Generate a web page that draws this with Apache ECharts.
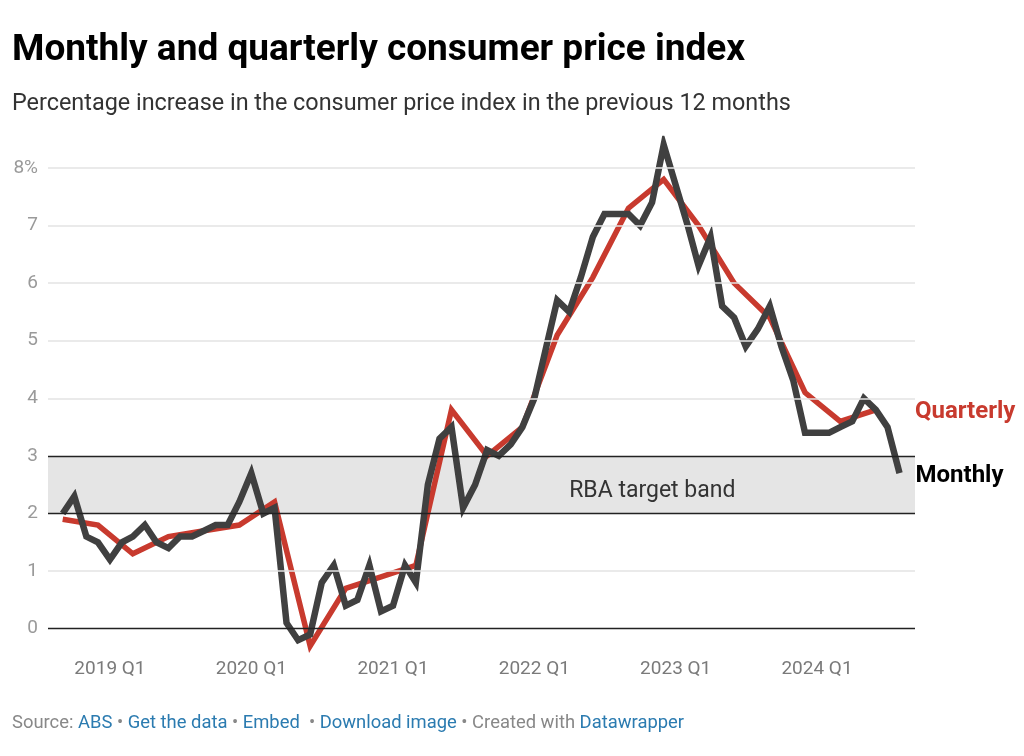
<!DOCTYPE html>
<html>
<head>
<meta charset="utf-8">
<script src="https://cdn.jsdelivr.net/npm/echarts@6/dist/echarts.min.js"></script>
<style>
  html, body { margin: 0; padding: 0; background: #fff; }
  #chart { width: 1024px; height: 756px; }
</style>
</head>
<body>
<div id="chart"></div>
<script>
// ---- Data ----
const MONTHLY_START = [2018, 9];   // first month of the monthly series (Sep 2018)
const MONTHLY_VALUES = [
  2.0, 2.3, 1.6, 1.5, 1.2, 1.5, 1.6, 1.8, 1.5, 1.4, 1.6, 1.6,
  1.7, 1.8, 1.8, 2.2, 2.7, 2.0, 2.1, 0.1, -0.2, -0.1, 0.8, 1.1,
  0.4, 0.5, 1.1, 0.3, 0.4, 1.1, 0.8, 2.5, 3.3, 3.5, 2.1, 2.5,
  3.1, 3.0, 3.2, 3.5, 4.0, 4.9, 5.7, 5.5, 6.1, 6.8, 7.2, 7.2,
  7.2, 7.0, 7.4, 8.4, 7.7, 7.0, 6.3, 6.8, 5.6, 5.4, 4.9, 5.2,
  5.6, 4.9, 4.3, 3.4, 3.4, 3.4, 3.5, 3.6, 4.0, 3.8, 3.5, 2.7
];
const QUARTERLY_START = [2018, 9]; // Sep quarter 2018, quarter-end months
const QUARTERLY_VALUES = [
  1.9, 1.8, 1.3, 1.6, 1.7, 1.8, 2.2, -0.3, 0.7, 0.9, 1.1, 3.8,
  3.0, 3.5, 5.1, 6.1, 7.3, 7.8, 7.0, 6.0, 5.4, 4.1, 3.6, 3.8
];
const Y_TICKS = [0, 1, 2, 3, 4, 5, 6, 7, 8];
const LIGHT_GRID = [1, 4, 5, 6, 7, 8];
const DARK_LINES = [0, 2, 3];
const TARGET_BAND = [2, 3];
const X_RANGE = ['2018-07-25', '2024-09-10'];

function monthDate(start, offsetMonths) {
  const y = start[0] + Math.floor((start[1] - 1 + offsetMonths) / 12);
  const m = (start[1] - 1 + offsetMonths) % 12 + 1;
  return y + '-' + String(m).padStart(2, '0') + '-01';
}
const monthlyData = MONTHLY_VALUES.map((v, i) => [monthDate(MONTHLY_START, i), v]);
const quarterlyData = QUARTERLY_VALUES.map((v, i) => [monthDate(QUARTERLY_START, i * 3), v]);

const FONT = 'Roboto, "Noto Sans", sans-serif';
const RED = '#c83a2e';
const DARK = '#404040';
const BLUE = '#2b7bb0';

const chart = echarts.init(document.getElementById('chart'), null, { renderer: 'canvas' });

chart.setOption({
  animation: false,
  backgroundColor: '#fff',
  textStyle: { fontFamily: FONT },
  title: [
    {
      text: 'Monthly and quarterly consumer price index',
      left: 12, top: 32, padding: 0,
      textStyle: { fontFamily: FONT, fontSize: 37, fontWeight: 'bold', color: '#000' }
    },
    {
      text: 'Percentage increase in the consumer price index in the previous 12 months',
      left: 12, top: 93, padding: 0,
      textStyle: { fontFamily: FONT, fontSize: 23.4, fontWeight: 'normal', color: '#333' }
    },
    {
      text: '{g|Source: }{b|ABS}{g| • }{b|Get the data}{g| • }{b|Embed}{g|  • }{b|Download image}{g| • Created with }{b|Datawrapper}',
      left: 12, top: 714, padding: 0,
      textStyle: {
        fontFamily: FONT, fontSize: 18.4, fontWeight: 'normal',
        rich: {
          g: { fontFamily: FONT, fontSize: 18.4, fontWeight: 'normal', color: '#888' },
          b: { fontFamily: FONT, fontSize: 18.4, fontWeight: 'normal', color: BLUE }
        }
      }
    }
  ],
  grid: { left: 48, right: 109, top: 139.1, bottom: 98.5, containLabel: false },
  xAxis: {
    type: 'time',
    min: X_RANGE[0],
    max: X_RANGE[1],
    splitNumber: 6,
    axisLine: { show: false },
    axisTick: { show: false },
    splitLine: { show: false },
    axisLabel: {
      margin: 2,
      fontFamily: FONT,
      fontSize: 19,
      color: '#7a7a7a',
      hideOverlap: false,
      showMinLabel: false,
      showMaxLabel: false,
      formatter: function (val) {
        const d = new Date(val);
        if (d.getMonth() === 0 && d.getDate() === 1) return d.getFullYear() + ' Q1';
        return '';
      }
    }
  },
  yAxis: {
    type: 'value',
    min: -0.5,
    max: 8.5,
    splitNumber: 9,
    axisLine: { show: false },
    axisTick: { show: false },
    splitLine: { show: false },
    axisLabel: {
      margin: 10,
      fontFamily: FONT,
      fontSize: 19,
      color: '#9a9a9a',
      formatter: function (v) {
        if (Y_TICKS.indexOf(v) < 0) return '';
        return v === Y_TICKS[Y_TICKS.length - 1] ? v + '%' : String(v);
      }
    }
  },
  series: [
    {
      name: 'Reference',
      type: 'line',
      data: [],
      z: 1,
      silent: true,
      markArea: {
        silent: true,
        itemStyle: { color: '#e5e5e5' },
        label: {
          show: true,
          position: ['69.7%', '62%'],
          align: 'center',
          verticalAlign: 'middle',
          fontFamily: FONT,
          fontSize: 23,
          color: '#333',
          formatter: 'RBA target band'
        },
        data: [[{ yAxis: TARGET_BAND[0] }, { yAxis: TARGET_BAND[1] }]]
      },
      markLine: {
        silent: true,
        symbol: 'none',
        label: { show: false },
        data: LIGHT_GRID.map(v => ({ yAxis: v, lineStyle: { color: '#e3e3e3', width: 1.5, type: 'solid' } }))
          .concat(DARK_LINES.map(v => ({ yAxis: v, lineStyle: { color: '#222', width: 1.3, type: 'solid' } })))
      }
    },
    {
      name: 'Quarterly',
      type: 'line',
      data: quarterlyData,
      z: 3,
      symbol: 'none',
      lineStyle: { color: RED, width: 5.5, join: 'miter' },
      endLabel: {
        show: true,
        distance: 39,
        formatter: 'Quarterly',
        fontFamily: FONT,
        fontSize: 24,
        fontWeight: 'bold',
        color: RED,
        offset: [0, 2]
      }
    },
    {
      name: 'Monthly',
      type: 'line',
      data: monthlyData,
      z: 4,
      symbol: 'none',
      lineStyle: { color: DARK, width: 6.5, join: 'miter' },
      endLabel: {
        show: true,
        distance: 16,
        formatter: 'Monthly',
        fontFamily: FONT,
        fontSize: 24,
        fontWeight: 'bold',
        color: '#000',
        offset: [0, 3]
      }
    }
  ]
});
</script>
</body>
</html>
